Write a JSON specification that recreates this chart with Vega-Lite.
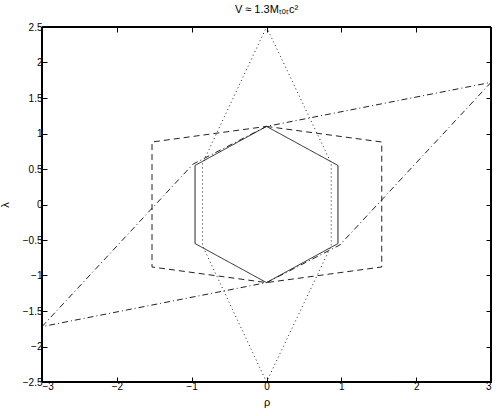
{
  "$schema": "https://vega.github.io/schema/vega-lite/v6.json",
  "width": 449,
  "height": 355,
  "autosize": "none",
  "padding": {"left": 42, "top": 27, "right": 7, "bottom": 34},
  "background": "white",
  "title": {"text": "V ≈ 1.3Mₜₒₜc²", "fontSize": 11, "font": "Liberation Sans", "fontWeight": "normal", "offset": 7, "color": "black"},
  "config": {
    "view": {"stroke": "black", "strokeWidth": 1},
    "axis": {"grid": false, "domainColor": "black", "tickColor": "black", "labelColor": "black", "titleColor": "black", "labelFont": "Liberation Sans", "titleFont": "Liberation Sans", "labelFontSize": 10, "titleFontSize": 11, "titleFontWeight": "normal", "tickSize": -5, "domainWidth": 1, "tickWidth": 1}
  },
  "data": {"values": [
    {"shape": "solid", "o": 0, "x": 0, "y": 1.1},
    {"shape": "solid", "o": 1, "x": 0.955, "y": 0.55},
    {"shape": "solid", "o": 2, "x": 0.955, "y": -0.55},
    {"shape": "solid", "o": 3, "x": 0, "y": -1.1},
    {"shape": "solid", "o": 4, "x": -0.955, "y": -0.55},
    {"shape": "solid", "o": 5, "x": -0.955, "y": 0.55},
    {"shape": "solid", "o": 6, "x": 0, "y": 1.1},
    {"shape": "dashed", "o": 0, "x": 0, "y": 1.1},
    {"shape": "dashed", "o": 1, "x": 1.54, "y": 0.88},
    {"shape": "dashed", "o": 2, "x": 1.54, "y": -0.88},
    {"shape": "dashed", "o": 3, "x": 0, "y": -1.1},
    {"shape": "dashed", "o": 4, "x": -1.53, "y": -0.88},
    {"shape": "dashed", "o": 5, "x": -1.53, "y": 0.88},
    {"shape": "dashed", "o": 6, "x": 0, "y": 1.1},
    {"shape": "dotted", "o": 0, "x": 0, "y": 2.5},
    {"shape": "dotted", "o": 1, "x": 0.865, "y": 0.58},
    {"shape": "dotted", "o": 2, "x": 0.865, "y": -0.58},
    {"shape": "dotted", "o": 3, "x": 0, "y": -2.5},
    {"shape": "dotted", "o": 4, "x": -0.855, "y": -0.58},
    {"shape": "dotted", "o": 5, "x": -0.855, "y": 0.58},
    {"shape": "dotted", "o": 6, "x": 0, "y": 2.5},
    {"shape": "dashdot", "o": 0, "x": -3, "y": -1.72},
    {"shape": "dashdot", "o": 1, "x": -0.98, "y": 0.57},
    {"shape": "dashdot", "o": 2, "x": 0, "y": 1.1},
    {"shape": "dashdot", "o": 3, "x": 3, "y": 1.72},
    {"shape": "dashdot", "o": 4, "x": 0.98, "y": -0.57},
    {"shape": "dashdot", "o": 5, "x": 0, "y": -1.1},
    {"shape": "dashdot", "o": 6, "x": -3, "y": -1.72}
  ]},
  "layer": [
    {
      "mark": {"type": "line", "strokeWidth": 1, "color": "#222222"},
      "encoding": {
        "x": {"field": "x", "type": "quantitative", "scale": {"domain": [-3, 3], "nice": false, "zero": false},
              "axis": {"title": "ρ", "values": [-3, -2, -1, 0, 1, 2, 3], "format": "~g", "labelPadding": 4, "titlePadding": 5}},
        "y": {"field": "y", "type": "quantitative", "scale": {"domain": [-2.5, 2.5], "nice": false, "zero": false},
              "axis": {"title": "λ", "values": [-2.5, -2, -1.5, -1, -0.5, 0, 0.5, 1, 1.5, 2, 2.5], "format": "~g", "labelPadding": 5, "titlePadding": 12}},
        "order": {"field": "o", "type": "quantitative"},
        "detail": {"field": "shape", "type": "nominal"},
        "strokeDash": {"field": "shape", "type": "nominal", "legend": null,
                       "scale": {"domain": ["solid", "dashed", "dotted", "dashdot"], "range": [[1, 0], [6, 4], [1, 3], [6, 3, 1, 3]]}}
      }
    },
    {
      "mark": {"type": "rect", "filled": false, "color": "black", "strokeWidth": 1},
      "encoding": {
        "x": {"datum": -3, "type": "quantitative",
              "axis": {"title": null, "labels": false, "labelOpacity": 0, "domainColor": "black", "values": [-3, -2, -1, 0, 1, 2, 3]}},
        "x2": {"datum": 3},
        "y": {"datum": -2.5, "type": "quantitative",
              "axis": {"title": null, "labels": false, "labelOpacity": 0, "domainColor": "black", "values": [-2.5, -2, -1.5, -1, -0.5, 0, 0.5, 1, 1.5, 2, 2.5]}},
        "y2": {"datum": 2.5}
      }
    }
  ],
  "resolve": {"axis": {"x": "independent", "y": "independent"}}
}
